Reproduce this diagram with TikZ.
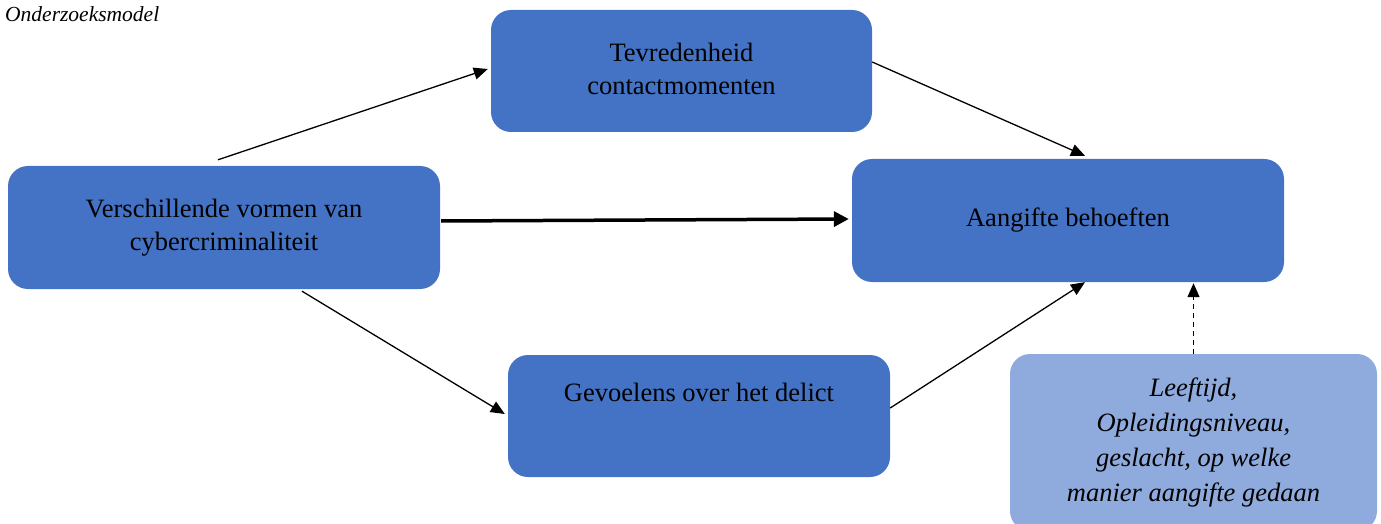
\documentclass[tikz,border=0pt]{standalone}
\usepackage{fontspec}
\setmainfont{Liberation Serif}
\usetikzlibrary{arrows.meta}
\definecolor{boxdark}{HTML}{4472C4}
\definecolor{boxlight}{HTML}{8FAADC}
\begin{document}
\begin{tikzpicture}[x=1pt,y=1pt,
  box/.style={fill=boxdark, draw=none, rounded corners=20pt, align=center, inner sep=0pt,
    font=\fontsize{26.5}{33}\selectfont},
  lbox/.style={box, fill=boxlight, font=\fontsize{26.5}{35}\selectfont\itshape},
  arr/.style={line width=1.3pt, -{Triangle[length=14pt,width=12pt]}},
  tarr/.style={line width=3.5pt, -{Triangle[length=15pt,width=15pt]}},
  darr/.style={arr, dash pattern=on 5pt off 4pt}]
\useasboundingbox (0,0) rectangle (1381,523);
\node[anchor=west, inner sep=0pt, font=\fontsize{21.5}{24}\selectfont\itshape] (cap) at (5,509) {Onderzoeksmodel};
\node[box, minimum width=381pt, minimum height=122pt] (t) at (681.5,452) {\raisebox{3pt}{\begin{tabular}{@{}c@{}}Tevredenheid\\contactmomenten\end{tabular}}};
\node[box, minimum width=432pt, minimum height=123pt] (v) at (224,295.5) {Verschillende vormen van\\cybercriminaliteit};
\node[box, minimum width=432pt, minimum height=123pt] (a) at (1068,302.5) {\raisebox{7pt}{Aangifte behoeften}};
\node[box, minimum width=382pt, minimum height=122pt] (g) at (699,107) {\raisebox{15pt}[0pt][0pt]{Gevoelens over het delict}};
\node[lbox, minimum width=367pt, minimum height=177pt] (l) at (1193.5,80.5) {Leeftijd,\\Opleidingsniveau,\\geslacht, op welke\\manier aangifte gedaan};
\draw[arr] ([shift={(-6,6)}]v.north) -- ([shift={(-3,2)}]t.west);
\draw[arr] ([shift={(0,9)}]t.east) -- ([shift={(17,3)}]a.north);
\draw[tarr] ([shift={(1,6.5)}]v.east) -- ([shift={(-3,1.5)}]a.west);
\draw[arr] ([shift={(78,-2)}]v.south) -- ([shift={(-3,2)}]g.west);
\draw[arr] ([shift={(0,8)}]g.east) -- ([shift={(17,0)}]a.south);
\draw[darr] (l.north) -- ([shift={(125.5,-1)}]a.south);
\end{tikzpicture}
\end{document}
